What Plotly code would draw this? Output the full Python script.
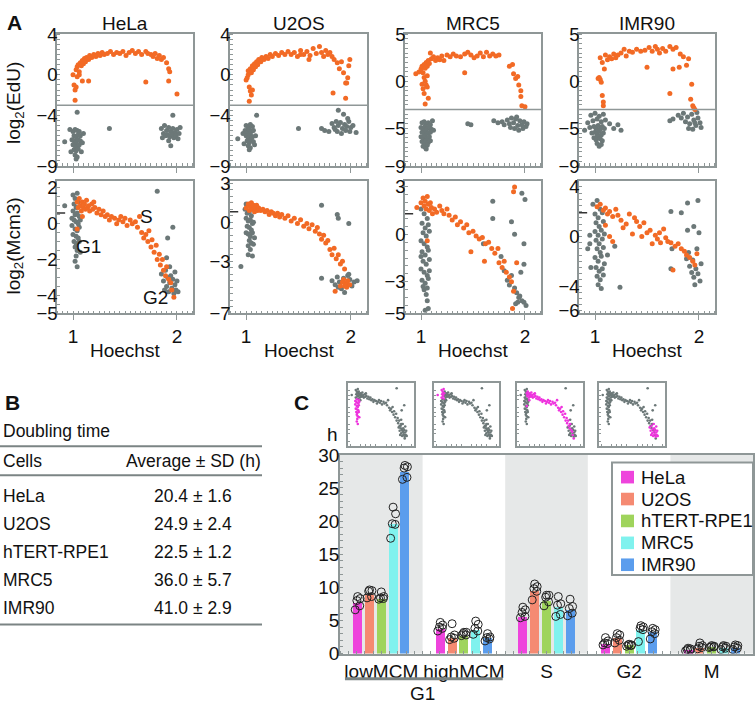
import plotly.graph_objects as go

FONT = "Arial, Liberation Sans, sans-serif"
ORANGE = "#f26a25"
GREY = "#6c7878"
FRAME = "#8f9797"
W, H = 756, 712

# ---------------- panel A data: (Hoechst, log2 signal) ----------------
hela_edu_s = [(1.00,0.0),(1.01,-1.0),(1.02,-1.5),(1.03,-1.2),(1.02,-2.5),(1.03,0.5),(1.04,0.8),(1.05,1.0),(1.06,0.3),
              (1.07,1.2),(1.08,0.9),(1.09,1.4),(1.10,1.1),(1.11,1.6),(1.12,1.3),(1.13,1.7),(1.15,1.5),(1.16,1.9),(1.18,1.7),
              (1.20,2.0),(1.22,1.8),(1.24,2.1),(1.26,1.9),(1.28,2.2),(1.30,2.0),(1.33,2.1),(1.36,2.3),(1.39,2.0),(1.42,2.2),
              (1.45,2.1),(1.48,2.3),(1.51,1.9),(1.54,2.2),(1.57,2.4),(1.60,2.1),(1.63,2.3),(1.66,2.0),(1.70,2.3),(1.72,2.1),
              (1.75,2.0),(1.77,1.8),(1.79,2.1),(1.81,1.6),(1.83,1.9),(1.85,1.5),(1.87,1.7),(1.90,1.2),(1.92,0.6),(1.93,0.3),
              (1.92,-0.6),(2.00,-1.9),(1.09,-0.6),(1.15,-0.6),(1.70,-0.7),(1.06,0.0),(1.04,-0.2)]
hela_edu_g = [(1.00,-5.6),(1.02,-5.4),(1.04,-5.5),(1.06,-5.6),(1.01,-6.0),(1.03,-6.1),(1.05,-5.9),(1.07,-6.0),(0.99,-6.4),
              (1.01,-6.5),(1.03,-6.6),(1.05,-6.4),(1.07,-6.5),(1.00,-6.9),(1.02,-7.0),(1.04,-7.1),(1.06,-6.9),(1.01,-7.4),
              (1.03,-7.5),(1.05,-7.3),(1.02,-7.9),(1.04,-8.1),(1.03,-8.3),(0.97,-5.4),(1.10,-5.8),(1.09,-6.7),(0.92,-6.6),
              (1.04,-3.7),(0.98,-7.6),(1.08,-7.6),(1.35,-5.3),
              (1.85,-5.3),(1.88,-5.0),(1.90,-5.5),(1.92,-5.2),(1.94,-5.6),(1.96,-5.3),(1.98,-5.7),(2.00,-5.4),(2.02,-5.8),
              (1.87,-5.8),(1.89,-6.0),(1.91,-5.9),(1.93,-6.1),(1.95,-5.9),(1.97,-6.2),(1.99,-6.0),(2.01,-6.3),(1.92,-6.5),
              (1.94,-7.0),(1.96,-4.0),(2.03,-5.2),(1.86,-6.2)]
u2os_edu_s = [(1.00,-0.5),(1.01,-0.3),(1.02,0.0),(1.03,-1.2),(1.04,-1.6),(1.05,-2.0),(1.03,-2.6),(1.06,-1.5),(1.02,0.4),
              (1.04,0.6),(1.05,0.2),(1.06,0.9),(1.07,0.5),(1.08,1.1),(1.09,0.8),(1.10,1.3),(1.11,1.0),(1.12,1.5),(1.14,1.3),
              (1.15,1.7),(1.17,1.5),(1.19,1.8),(1.21,1.6),(1.23,2.0),(1.25,1.8),(1.28,2.1),(1.31,1.9),(1.34,2.2),(1.37,2.0),
              (1.40,2.3),(1.43,2.0),(1.46,2.2),(1.49,1.8),(1.52,2.4),(1.55,2.0),(1.58,2.3),(1.61,1.9),(1.64,2.6),(1.67,2.1),
              (1.70,2.8),(1.72,2.2),(1.74,1.8),(1.76,2.4),(1.78,2.0),(1.80,2.2),(1.82,1.8),(1.84,1.5),(1.87,1.2),(1.89,0.6),
              (1.91,1.3),(1.93,0.2),(1.95,-0.8),(1.97,-0.3),(1.98,0.9),(1.99,1.5),(1.96,-0.8),(1.95,-2.3),(1.83,-1.8),
              (1.52,2.0),(1.60,1.5)]
u2os_edu_g = [(1.00,-5.0),(1.02,-5.2),(1.04,-4.9),(1.06,-5.1),(0.99,-5.5),(1.01,-5.7),(1.03,-5.4),(1.05,-5.6),(1.07,-5.5),
              (1.00,-6.0),(1.02,-6.2),(1.04,-5.9),(1.06,-6.1),(1.01,-6.5),(1.03,-6.7),(1.05,-6.4),(1.07,-6.6),(1.02,-7.0),
              (1.04,-7.2),(1.03,-7.4),(0.97,-5.8),(1.09,-6.0),(0.92,-6.3),(1.10,-4.0),(1.08,-6.9),(0.98,-6.8),
              (1.50,-5.3),(1.72,-5.3),(1.75,-5.5),(1.79,-5.6),
              (1.82,-4.8),(1.84,-5.2),(1.86,-4.6),(1.88,-5.0),(1.90,-4.7),(1.92,-5.3),(1.94,-4.9),(1.96,-5.1),(1.98,-4.6),
              (2.00,-5.2),(2.02,-5.0),(2.05,-5.7),(1.87,-5.6),(1.91,-5.8),(1.95,-5.5),(1.99,-5.6),(1.88,-3.5),(1.93,-3.9),
              (1.85,-5.4),(1.97,-4.3)]
mrc5_edu_s = [(0.95,0.8),(0.98,1.0),(1.00,1.3),(1.01,1.6),(1.02,0.9),(1.03,1.8),(1.04,1.4),(1.05,2.0),(1.06,1.6),
              (1.07,2.2),(1.08,1.9),(1.09,3.0),(1.10,2.4),(1.12,2.6),(1.14,2.2),(1.16,2.5),(1.18,2.3),(1.20,2.7),(1.22,2.2),
              (1.25,2.8),(1.28,2.6),(1.31,2.9),(1.34,2.7),(1.38,2.6),(1.42,2.9),(1.45,3.1),(1.48,2.8),(1.51,2.5),(1.54,2.7),
              (1.57,3.0),(1.60,2.6),(1.63,3.1),(1.66,2.7),(1.69,2.9),(1.72,2.7),(1.75,2.8),(1.42,0.9),(1.85,1.6),(1.88,1.8),
              (1.89,0.8),(1.91,0.3),(1.93,0.5),(1.94,-0.4),(1.96,-1.0),(1.96,-1.6),(1.97,-2.6),(2.00,-2.7),(1.03,0.4),
              (1.04,0.0),(1.05,-0.4),(1.02,-0.8),(1.03,-1.3),(1.06,-0.6),(1.07,-1.8),(1.04,-2.4),(1.01,-0.3),(1.06,0.6)]
mrc5_edu_g = [(1.01,-4.4),(1.03,-4.3),(1.05,-4.5),(1.07,-4.4),(1.09,-4.6),(1.00,-4.9),(1.02,-5.0),(1.04,-4.8),(1.06,-5.0),
              (1.08,-4.9),(1.10,-5.1),(1.01,-5.4),(1.03,-5.5),(1.05,-5.3),(1.07,-5.5),(1.09,-5.4),(1.00,-5.9),(1.02,-6.0),
              (1.04,-5.8),(1.06,-6.0),(1.08,-5.9),(1.01,-6.4),(1.03,-6.5),(1.05,-6.3),(1.07,-6.5),(1.09,-6.3),(1.02,-6.9),
              (1.04,-7.0),(1.06,-6.8),(1.05,-7.2),(1.12,-5.2),(1.11,-4.2),
              (1.45,-4.5),(1.48,-4.6),(1.70,-4.2),(1.74,-4.4),(1.78,-4.3),(1.80,-4.6),(1.83,-4.1),(1.85,-4.5),(1.87,-3.9),
              (1.89,-4.4),(1.91,-4.0),(1.93,-4.7),(1.95,-4.2),(1.97,-4.6),(1.99,-4.3),(2.01,-4.8),(1.90,-5.0),(1.94,-5.2),
              (1.98,-5.0),(1.86,-4.9),(1.92,-3.8),(2.02,-4.5)]
imr90_edu_s = [(1.03,0.3),(1.04,0.4),(1.05,0.2),(1.06,-0.1),(1.07,-1.5),(1.08,-2.2),(1.08,-2.6),(1.05,2.5),(1.07,2.0),
               (1.09,1.3),(1.10,2.8),(1.12,2.3),(1.14,2.6),(1.16,2.4),(1.18,2.9),(1.20,2.5),(1.22,2.8),(1.25,3.0),(1.28,3.4),
               (1.30,2.7),(1.33,3.2),(1.36,3.1),(1.40,3.4),(1.44,3.2),(1.48,3.3),(1.52,3.6),(1.55,3.2),(1.58,3.7),(1.60,3.4),
               (1.62,3.0),(1.65,3.5),(1.68,3.2),(1.72,3.7),(1.75,3.4),(1.78,3.6),(1.82,2.9),(1.85,2.6),(1.50,1.5),(1.72,-1.3),
               (1.75,1.3),(1.81,1.5),(1.88,1.7),(1.90,2.4),(1.93,-0.3),(1.92,-1.9),(1.94,-2.6),(1.96,-3.0),(1.95,-2.8)]
imr90_edu_g = [(0.96,-3.6),(1.00,-3.4),(1.04,-3.7),(1.08,-3.5),(0.93,-4.4),(0.98,-4.2),(1.02,-4.0),(1.06,-4.3),(1.10,-4.1),
               (0.95,-4.9),(0.99,-4.8),(1.01,-5.0),(1.03,-4.7),(1.05,-5.1),(1.07,-4.8),(1.09,-5.0),(0.97,-5.5),(1.00,-5.4),
               (1.02,-5.6),(1.04,-5.3),(1.06,-5.7),(1.08,-5.5),(0.99,-6.0),(1.01,-6.2),(1.03,-5.9),(1.05,-6.1),(1.07,-6.3),
               (1.02,-6.6),(1.04,-6.9),(1.06,-6.7),(1.14,-4.5),(1.18,-5.0),(1.22,-4.6),(1.25,-5.2),(0.90,-5.2),
               (1.72,-4.2),(1.75,-4.0),(1.80,-3.6),(1.83,-3.9),(1.85,-3.4),(1.87,-4.3),(1.89,-3.8),(1.91,-4.5),(1.93,-3.5),
               (1.95,-4.1),(1.97,-4.7),(1.99,-3.9),(2.01,-4.4),(1.90,-5.0),(1.94,-5.1),(1.98,-3.3),(2.02,-4.9),(1.96,-4.4)]

hela_mcm_s = [(1.04,1.2),(1.05,0.9),(1.06,1.4),(1.07,1.0),(1.08,0.7),(1.09,1.2),(1.10,0.9),(1.11,1.1),(1.12,0.8),
              (1.13,1.3),(1.14,0.9),(1.15,1.0),(1.16,0.7),(1.18,1.1),(1.19,0.8),(1.21,0.9),(1.23,0.6),(1.25,0.8),(1.27,0.5),
              (1.29,0.7),(1.31,0.4),(1.33,0.5),(1.35,0.2),(1.37,0.4),(1.40,0.3),(1.42,0.0),(1.44,0.2),(1.46,0.4),(1.48,0.1),
              (1.50,0.3),(1.52,-0.1),(1.55,0.2),(1.57,0.0),(1.60,0.1),(1.62,-0.2),(1.64,0.4),(1.66,-0.5),(1.68,-0.8),
              (1.70,-0.6),(1.72,-1.0),(1.73,-0.4),(1.75,-1.3),(1.76,-0.9),(1.78,-1.6),(1.80,-1.2),(1.81,-2.0),(1.83,-1.7),
              (1.84,-2.3),(1.86,-2.0),(1.87,-2.6),(1.89,-2.9),(1.90,-2.4),(1.92,-3.1),(1.94,-3.3),(1.95,-3.7),(1.97,-4.1),
              (1.20,1.2),(1.09,0.4),(1.04,-0.3)]
hela_mcm_g = [(1.00,1.6),(1.02,1.4),(1.04,1.7),(1.01,1.1),(1.03,0.9),(1.05,1.2),(1.00,0.7),(1.02,0.5),(1.04,0.6),
              (1.06,0.4),(1.01,0.2),(1.03,0.1),(1.05,0.0),(0.99,-0.1),(1.02,-0.3),(1.04,-0.4),(1.06,-0.2),(1.00,-0.6),
              (1.03,-0.7),(1.05,-0.8),(1.01,-1.0),(1.03,-1.1),(1.06,-1.0),(1.02,-1.3),(1.04,-1.5),(1.03,-1.8),(1.02,-2.1),
              (1.04,-2.4),(0.92,1.0),(1.07,-1.6),(0.99,0.3),(1.07,0.2),
              (1.85,-2.8),(1.87,-3.2),(1.89,-2.6),(1.90,-3.5),(1.91,-3.0),(1.92,-3.8),(1.93,-3.3),(1.94,-2.9),(1.95,-3.6),
              (1.96,-3.1),(1.97,-3.9),(1.98,-3.4),(1.99,-3.7),(2.00,-3.2),(2.01,-3.8),(1.88,-3.7),(1.93,-2.4),(1.96,-0.2),
              (1.91,-0.8),(1.98,-2.7),(1.90,-1.9),(1.81,1.8)]
u2os_mcm_s = [(1.00,1.1),(1.02,1.4),(1.03,0.9),(1.04,1.2),(1.05,1.5),(1.06,1.0),(1.07,1.3),(1.08,0.8),(1.09,1.1),
              (1.10,1.3),(1.11,0.9),(1.12,1.1),(1.14,0.9),(1.16,1.0),(1.18,0.8),(1.20,0.9),(1.22,0.6),(1.24,0.8),(1.26,0.7),
              (1.28,0.5),(1.30,0.7),(1.32,0.4),(1.34,0.6),(1.37,0.3),(1.40,0.5),(1.43,0.1),(1.46,0.3),(1.49,-0.1),(1.52,0.2),
              (1.55,-0.3),(1.58,-0.1),(1.60,-0.5),(1.63,-0.2),(1.66,-0.7),(1.68,-0.4),(1.70,-0.9),(1.72,-1.3),(1.74,-1.0),
              (1.76,-1.6),(1.78,-1.4),(1.80,-2.1),(1.82,-2.5),(1.84,-2.0),(1.86,-2.8),(1.88,-2.5),(1.90,-3.2),(1.92,-3.0),
              (1.94,-3.6),(1.93,-4.4),(1.95,-4.7),(1.97,-4.5),(1.96,-5.0),(1.90,-4.9),(1.92,-4.6),(1.99,-4.8),(1.94,-4.9),
              (1.85,-5.3)]
u2os_mcm_g = [(0.99,1.0),(1.01,0.7),(1.03,0.8),(1.05,0.5),(1.00,0.3),(1.02,0.1),(1.04,0.2),(1.06,-0.1),(1.01,-0.3),
              (1.03,-0.4),(1.05,-0.6),(1.00,-0.8),(1.02,-0.9),(1.04,-1.1),(1.06,-0.8),(1.03,-1.4),(1.05,-1.6),(1.02,-1.8),
              (1.07,-1.7),(1.04,-2.1),(1.06,-2.6),(1.02,-2.5),(0.95,-3.4),(1.08,-1.2),(1.07,0.0),(1.00,1.4),
              (1.82,-4.5),(1.85,-4.8),(1.87,-4.2),(1.89,-4.6),(1.91,-5.1),(1.93,-4.3),(1.95,-4.8),(1.97,-4.1),(1.99,-4.4),
              (2.01,-4.9),(2.03,-4.6),(2.06,-4.5),(1.94,-5.4),(1.88,-5.0),(1.72,-4.3),(1.72,1.3),(1.87,0.6),(1.88,0.3),
              (1.98,-0.1),(1.98,-4.0)]
mrc5_mcm_s = [(0.96,1.7),(1.00,2.0),(1.02,2.3),(1.03,1.8),(1.04,2.1),(1.05,1.6),(1.06,2.4),(1.07,1.9),(1.08,1.5),
              (1.09,2.0),(1.10,1.7),(1.11,1.3),(1.13,1.6),(1.15,1.4),(1.18,1.8),(1.20,1.5),(1.22,1.3),(1.25,1.6),(1.27,1.2),
              (1.30,0.9),(1.33,1.1),(1.35,0.6),(1.38,0.8),(1.41,0.4),(1.44,0.6),(1.46,0.1),(1.48,-1.1),(1.50,0.2),(1.53,-0.1),
              (1.56,-0.3),(1.59,-0.2),(1.62,-0.6),(1.65,-0.5),(1.61,-1.7),(1.68,-0.9),(1.71,-1.2),(1.74,-0.9),(1.75,-1.8),
              (1.78,-2.1),(1.80,-1.7),(1.82,-2.4),(1.85,-2.7),(1.87,-3.0),(1.89,-3.6),(1.88,-4.7),(1.89,2.7),(1.90,3.0),
              (1.06,-0.4),(1.92,-1.8)]
mrc5_mcm_g = [(1.00,1.6),(1.03,1.3),(1.06,1.0),(1.01,0.7),(1.04,0.4),(1.07,0.6),(1.02,0.1),(1.05,-0.1),(1.08,0.2),
              (1.00,-0.4),(1.03,-0.6),(1.06,-0.8),(1.01,-1.1),(1.04,-1.3),(1.07,-1.0),(1.02,-1.7),(1.05,-1.9),(1.08,-1.6),
              (1.00,-2.2),(1.03,-2.4),(1.06,-2.6),(1.01,-2.9),(1.04,-3.1),(1.07,-2.8),(1.03,-3.5),(1.05,-3.8),(1.06,-4.2),
              (1.04,-4.8),(1.07,-4.7),(1.02,-3.3),(1.06,-3.4),(1.00,-1.4),(1.08,-2.3),
              (1.69,2.1),(1.69,1.0),(1.87,0.8),(1.90,0.0),(1.99,-0.6),(2.00,2.2),(1.97,2.6),(1.80,-2.3),(1.83,-2.9),
              (1.85,-3.2),(1.87,-2.6),(1.90,-3.4),(1.92,-3.7),(1.94,-4.0),(1.95,-3.9),(1.97,-4.2),(1.99,-4.3),(2.01,-4.5),
              (1.93,-4.3),(1.91,-4.4),(1.96,-2.4),(1.99,-1.9),(1.77,-1.4),(1.60,-0.6)]
imr90_mcm_s = [(1.02,2.4),(1.05,2.6),(1.08,2.1),(1.10,2.3),(1.12,1.8),(1.14,2.0),(1.17,1.6),(1.20,2.2),(1.22,1.7),
               (1.25,1.3),(1.27,0.7),(1.30,1.0),(1.33,1.8),(1.36,0.2),(1.38,1.5),(1.40,1.2),(1.43,0.8),(1.45,0.0),(1.47,1.1),
               (1.50,0.3),(1.53,0.5),(1.55,-0.6),(1.58,0.1),(1.60,-0.2),(1.62,0.3),(1.63,-0.5),(1.66,0.6),(1.68,-0.1),
               (1.70,-0.4),(1.73,-0.5),(1.75,-2.7),(1.77,-0.8),(1.80,-0.6),(1.83,-1.0),(1.86,-1.2),(1.88,-1.5),(1.91,-1.7),
               (1.94,-2.0),(1.96,-2.3),(1.98,-1.4),(1.14,0.0),(1.17,-0.4),(1.10,0.9)]
imr90_mcm_g = [(0.98,2.6),(1.02,2.9),(1.05,2.2),(1.00,1.8),(1.03,1.5),(1.07,1.9),(1.01,1.1),(1.04,0.8),(1.08,1.2),
               (1.00,0.4),(1.03,0.1),(1.06,0.5),(1.09,0.2),(1.01,-0.3),(1.04,-0.6),(1.07,-0.2),(1.02,-1.0),(1.05,-1.3),
               (1.08,-0.9),(1.00,-1.7),(1.03,-2.0),(1.06,-1.6),(1.09,-2.2),(1.01,-2.5),(1.04,-2.8),(1.07,-2.6),(1.02,-3.2),
               (1.05,-3.5),(1.08,-3.1),(1.03,-3.9),(1.06,-4.2),(0.95,-0.6),(0.95,0.1),(0.93,-1.0),(1.12,-1.5),(1.19,-0.8),
               (1.24,-4.1),(0.96,-2.5),
               (1.73,2.0),(1.83,1.9),(1.89,2.7),(1.99,2.9),(1.89,0.5),(1.95,0.8),(2.00,0.3),(1.74,-1.0),(1.73,-2.6),
               (1.88,-1.8),(1.91,-2.4),(1.93,-2.9),(1.95,-3.3),(1.97,-2.6),(1.99,-3.0),(2.01,-3.6),(1.96,-3.9),(1.94,-1.9),
               (1.98,-1.0),(2.02,-2.2),(1.90,-1.3)]

mcm_threshold = [0.6, 0.8, 1.3, 1.9]

# ---------------- panel B data ----------------
table_cells = ["HeLa", "U2OS", "hTERT-RPE1", "MRC5", "IMR90"]
doubling_avg = [20.4, 24.9, 22.5, 36.0, 41.0]
doubling_sd = [1.6, 2.4, 1.2, 5.7, 2.9]

# ---------------- panel C data ----------------
phases = ["lowMCM", "highMCM", "S", "G2", "M"]
cells_c = ["HeLa", "U2OS", "hTERT-RPE1", "MRC5", "IMR90"]
phase_mean = {
    "HeLa":       [7.7, 3.8, 5.6, 1.5, 0.6],
    "U2OS":       [8.9, 2.3, 9.5, 2.3, 0.9],
    "hTERT-RPE1": [8.3, 2.7, 8.0, 1.3, 1.0],
    "MRC5":       [19.6, 3.5, 7.0, 3.6, 0.9],
    "IMR90":      [27.5, 2.3, 6.6, 3.3, 0.9],
}
phase_reps = {
    "HeLa":       [[6.6,7.2,8.0,8.3,8.6],[3.4,3.8,4.0,4.3,4.7],[5.4,5.6,6.2,6.6,7.0],[1.3,1.5,1.6,1.9,2.4],[0.4,0.5,0.6,0.7,0.8]],
    "U2OS":       [[8.4,8.6,9.4,9.5,9.6],[2.1,2.3,2.5,2.8,4.5],[8.1,9.4,9.8,10.1,10.5],[1.6,2.0,2.4,2.8,3.0],[0.7,0.9,1.1,1.2,1.6]],
    "hTERT-RPE1": [[8.2,8.3,8.4,8.6,9.3],[2.7,2.8,3.0,3.2,3.2],[7.2,7.8,8.5,8.8,8.8],[1.1,1.2,1.3,1.3,1.4],[0.9,1.0,1.0,1.1,1.2]],
    "MRC5":       [[17.4,19.5,19.6,21.1,22.1],[2.9,3.4,3.8,4.4,4.9],[5.6,5.9,7.3,7.5,8.6],[1.8,3.6,3.8,4.0,4.2],[0.6,0.8,1.0,1.1,1.2]],
    "IMR90":      [[26.3,26.6,28.0,28.2,28.4],[1.9,2.2,2.4,2.5,3.0],[5.7,6.1,6.8,7.1,8.2],[2.2,3.0,3.3,3.6,3.8],[0.6,0.8,1.0,1.2,1.3]],
}
bar_colors = ["#ee44dc", "#f58a72", "#9fd45c", "#80f2ee", "#5b9ded"]
MAGENTA = "#ee33dd"


def X(p):  # pixel -> paper
    return p / W


def Y(p):
    return 1 - p / H


def xs(pts):
    return [p[0] for p in pts]


def ys(pts):
    return [p[1] for p in pts]


fig = go.Figure()
layout = dict(width=W, height=H, margin=dict(l=0, r=0, t=0, b=0), paper_bgcolor="white",
              plot_bgcolor="white", font=dict(family=FONT, size=17, color="#111"), showlegend=False)
annotations = []
shapes = []

frame = dict(showline=True, linecolor=FRAME, linewidth=1.5, mirror=True, showgrid=False, zeroline=False)

names_a = ["HeLa", "U2OS", "MRC5", "IMR90"]
edu_data = [(hela_edu_s, hela_edu_g), (u2os_edu_s, u2os_edu_g), (mrc5_edu_s, mrc5_edu_g), (imr90_edu_s, imr90_edu_g)]
mcm_data = [(hela_mcm_s, hela_mcm_g), (u2os_mcm_s, u2os_mcm_g), (mrc5_mcm_s, mrc5_mcm_g), (imr90_mcm_s, imr90_mcm_g)]
edu_ticks = [[4, 0, -4, -9], [4, 0, -4, -9], [5, 0, -5, -9], [5, 0, -5, -9]]
edu_ranges = [[-9, 4], [-9, 4], [-9, 5], [-9, 5]]
mcm_ticks = [[2, 0, -2, -4, -5], [3, 0, -3, -7], [3, 0, -3, -5], [4, 0, -4, -6]]
mcm_ranges = [[-5, 2.4], [-7, 3.2], [-5, 3.4], [-6.2, 4.5]]
col_px = [(57, 193), (230, 367), (405, 541), (579, 715)]
xr = [0.846, 2.154]

for i in range(4):
    dom = [X(col_px[i][0]), X(col_px[i][1])]
    for row, (data, ticks, rng) in enumerate([(edu_data[i], edu_ticks[i], edu_ranges[i]),
                                              (mcm_data[i], mcm_ticks[i], mcm_ranges[i])]):
        k = i + 1 + 4 * row
        sfx = "" if k == 1 else str(k)
        s_pts, g_pts = data
        for pts, col in [(g_pts, GREY), (s_pts, ORANGE)]:
            fig.add_trace(go.Scatter(x=xs(pts), y=ys(pts), mode="markers", xaxis="x" + sfx, yaxis="y" + sfx,
                                     marker=dict(size=5, color=col), showlegend=False, hoverinfo="skip"))
        ydom = [Y(160), Y(24)] if row == 0 else [Y(312), Y(175)]
        layout["xaxis" + sfx] = dict(domain=dom, range=xr, anchor="y" + sfx, tickvals=[1, 2],
                                     ticks="outside", ticklen=5, tickcolor=FRAME,
                                     showticklabels=(row == 1), tickfont=dict(size=19),
                                     minor=dict(ticks="inside", ticklen=3, tickcolor=FRAME, tickmode="linear",
                                                tick0=0, dtick=0.05), **frame)
        layout["yaxis" + sfx] = dict(domain=ydom, range=rng, anchor="x" + sfx, tickvals=ticks,
                                     ticks="", tickfont=dict(size=18.5), ticklabelstandoff=-6,
                                     minor=dict(ticks="inside", ticklen=3, tickcolor=FRAME, tickmode="linear",
                                                tick0=0, dtick=0.5), **frame)
        if row == 0:
            shapes.append(dict(type="line", xref="x" + sfx + " domain", x0=0, x1=1, yref="y" + sfx,
                               y0=-3, y1=-3, line=dict(color=FRAME, width=1.5)))
        else:
            shapes.append(dict(type="line", xref="x" + sfx + " domain", x0=0, x1=0.06, yref="y" + sfx,
                               y0=mcm_threshold[i], y1=mcm_threshold[i], line=dict(color="#333", width=1.5)))
            annotations.append(dict(text="Hoechst", x=(dom[0] + dom[1]) / 2, y=Y(350), font=dict(size=19)))
    annotations.append(dict(text=names_a[i], x=(dom[0] + dom[1]) / 2, y=Y(13), font=dict(size=19)))

annotations += [
    dict(text="<b>A</b>", x=X(5), y=Y(12), xanchor="left", font=dict(size=21)),
    dict(text="log<sub>2</sub>(EdU)", x=X(15), y=Y(95), textangle=-90, font=dict(size=19)),
    dict(text="log<sub>2</sub>(Mcm3)", x=X(15), y=Y(243), textangle=-90, font=dict(size=19)),
]
for txt, xx, yy in [("G1", 1.15, -1.27), ("S", 1.71, 0.42), ("G2", 1.79, -4.1)]:
    annotations.append(dict(text=txt, x=xx, y=yy, xref="x5", yref="y5", font=dict(size=19)))

# ---------------- panel B: table ----------------
annotations += [
    dict(text="<b>B</b>", x=X(3), y=Y(404), xanchor="left", font=dict(size=21)),
    dict(text="Doubling time", x=X(1), y=Y(433), xanchor="left", font=dict(size=17.5)),
    dict(text="Cells", x=X(1), y=Y(464), xanchor="left", font=dict(size=17.5)),
    dict(text="Average ± SD (h)", x=X(263), y=Y(464), xanchor="right", font=dict(size=17.5)),
]
for j, name in enumerate(table_cells):
    yy = Y(500 + 29 * j)
    annotations.append(dict(text=name, x=X(1), y=yy, xanchor="left", font=dict(size=17.5)))
    annotations.append(dict(text=f"{doubling_avg[j]:.1f} ± {doubling_sd[j]:.1f}", x=X(193), y=yy,
                            font=dict(size=17.5)))
for yl in [449, 479, 633]:
    shapes.append(dict(type="line", xref="paper", yref="paper", x0=0, x1=X(262), y0=Y(yl), y1=Y(yl),
                       line=dict(color="#7b8484", width=2)))

# ---------------- panel C: bars ----------------
pitch, bw = 0.143, 0.108
jitter = [-0.03, 0.025, -0.01, 0.03, 0.0]
for k, cell in enumerate(cells_c):
    bx = [g + (k - 2) * pitch for g in range(len(phases))]
    fig.add_trace(go.Bar(x=bx, y=phase_mean[cell], width=bw, name=cell, marker=dict(color=bar_colors[k], line=dict(width=0)),
                         xaxis="x9", yaxis="y9", hoverinfo="skip"))
for k, cell in enumerate(cells_c):
    dx, dy = [], []
    for g in range(len(phases)):
        for r, v in enumerate(phase_reps[cell][g]):
            dx.append(g + (k - 2) * pitch + jitter[r])
            dy.append(v)
    fig.add_trace(go.Scatter(x=dx, y=dy, mode="markers", xaxis="x9", yaxis="y9", showlegend=False, hoverinfo="skip",
                             marker=dict(symbol="circle-open", size=8, color="#222", line=dict(width=1))))

layout["xaxis9"] = dict(domain=[X(340), X(753)], range=[-0.5, 4.5], anchor="y9", tickvals=list(range(5)),
                        ticktext=phases, ticks="", tickfont=dict(size=19),
                        minor=dict(ticks="inside", ticklen=3, tickcolor=FRAME, tickmode="linear", tick0=0, dtick=0.1),
                        **frame)
layout["yaxis9"] = dict(domain=[Y(663), Y(458)], range=[0, 30], anchor="x9", tickvals=list(range(0, 31, 5)),
                        ticks="", tickfont=dict(size=19), ticklabelstandoff=-5,
                        minor=dict(ticks="inside", ticklen=3, tickcolor=FRAME, tickmode="linear", tick0=0, dtick=1),
                        **frame)
for g in [0, 2, 4]:
    shapes.append(dict(type="rect", xref="x9", yref="y9 domain", x0=g - 0.5, x1=g + 0.5, y0=0, y1=1,
                       fillcolor="#e6e8e8", line=dict(width=0), layer="below"))
shapes.append(dict(type="line", xref="x9", yref="paper", x0=-0.44, x1=1.47, y0=Y(689), y1=Y(689),
                   line=dict(color="#7b8484", width=3)))
annotations += [
    dict(text="G1", x=0.5, y=Y(704), xref="x9", font=dict(size=19)),
    dict(text="<b>C</b>", x=X(292), y=Y(404), xanchor="left", font=dict(size=21)),
    dict(text="h", x=X(332), y=Y(437), font=dict(size=19)),
]

# legend drawn by hand to match the boxed key
shapes.append(dict(type="rect", xref="paper", yref="paper", x0=X(612), x1=X(753), y0=Y(582), y1=Y(466),
                   fillcolor="white", line=dict(color=FRAME, width=2)))
for k, cell in enumerate(cells_c):
    yc = 481 + 22.6 * k
    shapes.append(dict(type="rect", xref="paper", yref="paper", x0=X(621), x1=X(634), y0=Y(yc + 6.5),
                       y1=Y(yc - 6.5), fillcolor=bar_colors[k], line=dict(width=0)))
    annotations.append(dict(text=cell, x=X(639), y=Y(yc), xanchor="left", font=dict(size=18.5)))

# insets: HeLa Mcm3 map with the counted phase highlighted
inset_px = [(348, 414), (434, 499), (517, 583), (599, 665)]
g_pts = hela_mcm_g
inset_sets = [
    [p for p in g_pts if p[0] < 1.3 and p[1] < 0.6],
    [p for p in g_pts if p[0] < 1.3 and p[1] >= 0.6],
    hela_mcm_s,
    [p for p in g_pts if p[0] > 1.8 and p[1] < -2.2],
]
all_pts = hela_mcm_g + hela_mcm_s
for j in range(4):
    k = 10 + j
    sfx = str(k)
    hi = inset_sets[j]
    rest = [p for p in all_pts if p not in hi]
    for pts, col in [(rest, GREY), (hi, MAGENTA)]:
        fig.add_trace(go.Scatter(x=xs(pts), y=ys(pts), mode="markers", xaxis="x" + sfx, yaxis="y" + sfx,
                                 marker=dict(size=2.6, color=col), showlegend=False, hoverinfo="skip"))
    layout["xaxis" + sfx] = dict(domain=[X(inset_px[j][0]), X(inset_px[j][1])], range=xr, anchor="y" + sfx,
                                 showticklabels=False, ticks="",
                                 minor=dict(ticks="inside", ticklen=2, tickcolor=FRAME, tickmode="linear",
                                            tick0=0, dtick=0.1), **frame)
    layout["yaxis" + sfx] = dict(domain=[Y(449), Y(384)], range=[-5, 2.4], anchor="x" + sfx,
                                 showticklabels=False, ticks="",
                                 minor=dict(ticks="inside", ticklen=2, tickcolor=FRAME, tickmode="linear",
                                            tick0=0, dtick=0.5), **frame)

for a in annotations:
    a.setdefault("xref", "paper")
    a.setdefault("yref", "paper")
    a.setdefault("xanchor", "center")
    a.setdefault("yanchor", "middle")
    a.setdefault("showarrow", False)

layout["annotations"] = annotations
layout["shapes"] = shapes
layout["bargap"] = 0
fig.update_layout(**layout)

# the page's default 8px body margin would push the 756x712 figure off the window
fig.write_html("out.html", config={"displayModeBar": False},
               post_script="document.body.style.margin='0px';")
